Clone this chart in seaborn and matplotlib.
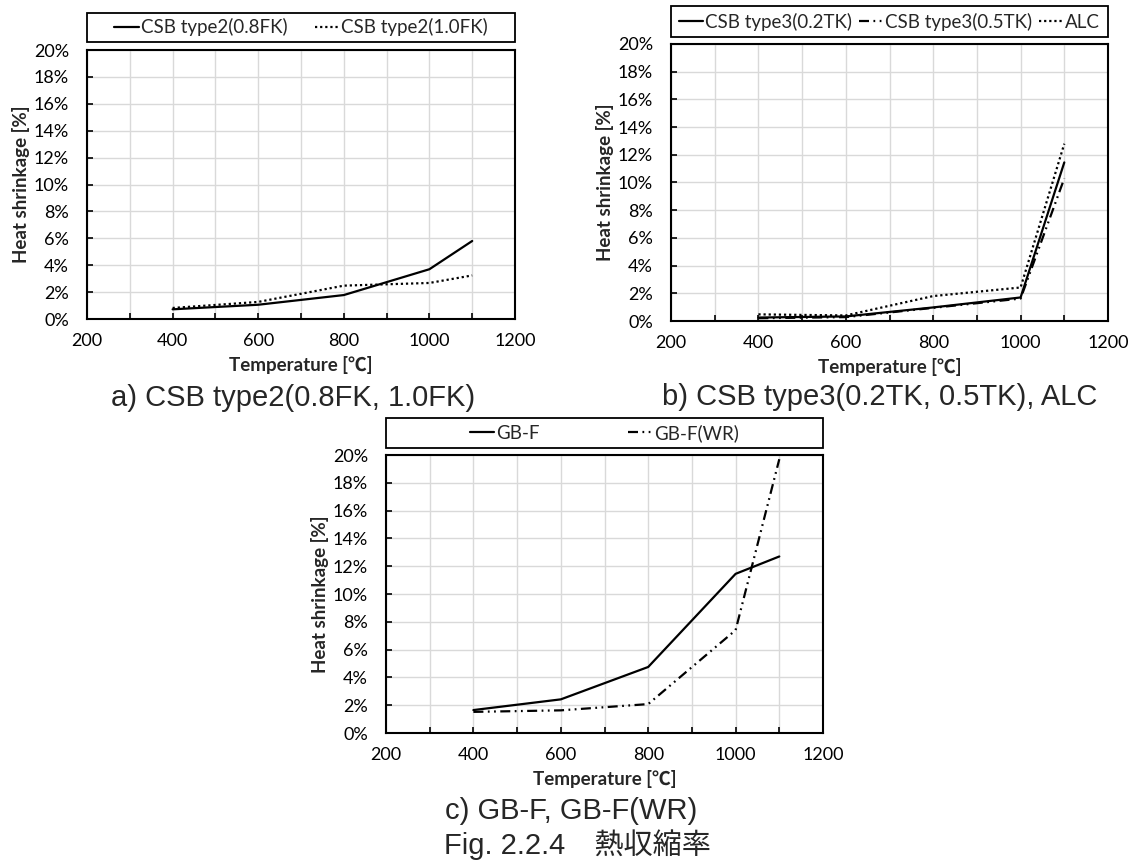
"""Heat shrinkage vs temperature, three panels (Fig. 2.2.4)"""

import matplotlib
matplotlib.use('Agg')
import matplotlib.pyplot as plt
import pandas as pd
import seaborn as sns
from matplotlib.patches import Rectangle
from matplotlib.ticker import MultipleLocator, StrMethodFormatter

temps = [400, 600, 800, 1000, 1100]

# panel a
csb2_08fk = [0.72, 1.06, 1.78, 3.70, 5.80]
csb2_10fk = [0.82, 1.27, 2.48, 2.68, 3.24]

# panel b
csb3_02tk = [0.25, 0.33, 0.98, 1.70, 11.45]
csb3_05tk = [0.20, 0.28, 0.95, 1.62, 10.30]
alc = [0.48, 0.40, 1.80, 2.42, 12.80]

# panel c
gbf = [1.65, 2.42, 4.75, 11.45, 12.70]
gbf_wr = [1.52, 1.63, 2.08, 7.40, 19.70]

captions = ['a) CSB type2(0.8FK, 1.0FK)', 'b) CSB type3(0.2TK, 0.5TK), ALC', 'c) GB-F, GB-F(WR)']
fig_title = 'Fig. 2.2.4\u3000熱収縮率'

SOLID = '-'
DOT = (0, (1, 1.3))
DASHDOTDOT = (0, (4.5, 2, 0.8, 2, 0.8, 2))

sns.set_style('white')
plt.rcParams['font.family'] = ['Lato', 'Noto Sans CJK JP', 'DejaVu Sans']

W, H = 1137, 863
fig = plt.figure(figsize=(W / 100, H / 100), dpi=100)


def px_axes(left, top, right, bottom):
    return fig.add_axes([left / W, 1 - bottom / H, (right - left) / W, (bottom - top) / H])


def draw_panel(ax, series, legend_box, colspacing):
    for name, vals, ls in series:
        df = pd.DataFrame({'Temperature': temps, 'Shrinkage': vals})
        sns.lineplot(data=df, x='Temperature', y='Shrinkage', ax=ax, color='black',
                     linestyle=ls, linewidth=1.6, label=name)

    ax.set_xlim(200, 1200)
    ax.set_ylim(0, 20)
    ax.xaxis.set_major_locator(MultipleLocator(200))
    ax.xaxis.set_minor_locator(MultipleLocator(100))
    ax.yaxis.set_major_locator(MultipleLocator(2))
    ax.yaxis.set_major_formatter(StrMethodFormatter('{x:.0f}%'))
    ax.set_axisbelow(True)
    ax.grid(True, which='both', axis='x', color='#d9d9d9', linewidth=1.0)
    ax.grid(True, which='major', axis='y', color='#d9d9d9', linewidth=1.0)
    for sp in ax.spines.values():
        sp.set_visible(True)
        sp.set_color('black')
        sp.set_linewidth(1.5)
    ax.tick_params(axis='x', which='both', direction='in', length=4, width=1.2,
                   pad=10, labelsize=13, colors='black', bottom=True)
    ax.tick_params(axis='y', which='both', direction='in', length=4, width=1.2,
                   pad=13, labelsize=13, colors='black', left=True)
    ax.set_xlabel('Temperature [℃]', fontsize=13.5, fontweight='bold', labelpad=5)
    ax.set_ylabel('Heat shrinkage [%]', fontsize=13.5, fontweight='bold', labelpad=3)

    y0, h = legend_box
    ax.add_patch(Rectangle((0, y0), 1, h, transform=ax.transAxes, clip_on=False,
                           fill=False, edgecolor='black', linewidth=1.3))
    handles, labels = ax.get_legend_handles_labels()
    ax.legend(handles, labels, loc='center', bbox_to_anchor=(0.5, y0 + h / 2),
              ncol=len(labels), frameon=False, fontsize=13.5, handlelength=1.3,
              handletextpad=0.1, columnspacing=colspacing, borderaxespad=0,
              borderpad=0)


ax_a = px_axes(87, 50, 515, 319)
draw_panel(ax_a, [('CSB type2(0.8FK)', csb2_08fk, SOLID),
                  ('CSB type2(1.0FK)', csb2_10fk, DOT)],
           (1.030, 0.108), 1.45)

ax_b = px_axes(671, 44, 1108, 321)
draw_panel(ax_b, [('CSB type3(0.2TK)', csb3_02tk, SOLID),
                  ('CSB type3(0.5TK)', csb3_05tk, DASHDOTDOT),
                  ('ALC', alc, DOT)],
           (1.025, 0.112), 0.35)

ax_c = px_axes(386, 455, 823, 733)
draw_panel(ax_c, [('GB-F', gbf, SOLID),
                  ('GB-F(WR)', gbf_wr, DASHDOTDOT)],
           (1.025, 0.108), 4.7)

cap_font = ['Liberation Sans', 'Noto Sans CJK JP']
fig.text(293 / W, 1 - 398 / H, captions[0], ha='center', va='center', fontsize=21, family=cap_font)
fig.text(880 / W, 1 - 397 / H, captions[1], ha='center', va='center', fontsize=21, family=cap_font)
fig.text(571 / W, 1 - 811 / H, captions[2], ha='center', va='center', fontsize=21, family=cap_font)
fig.text(577 / W, 1 - 845 / H, fig_title, ha='center', va='center', fontsize=21, family=cap_font)

fig.savefig('out.png', dpi=100, facecolor='white')
